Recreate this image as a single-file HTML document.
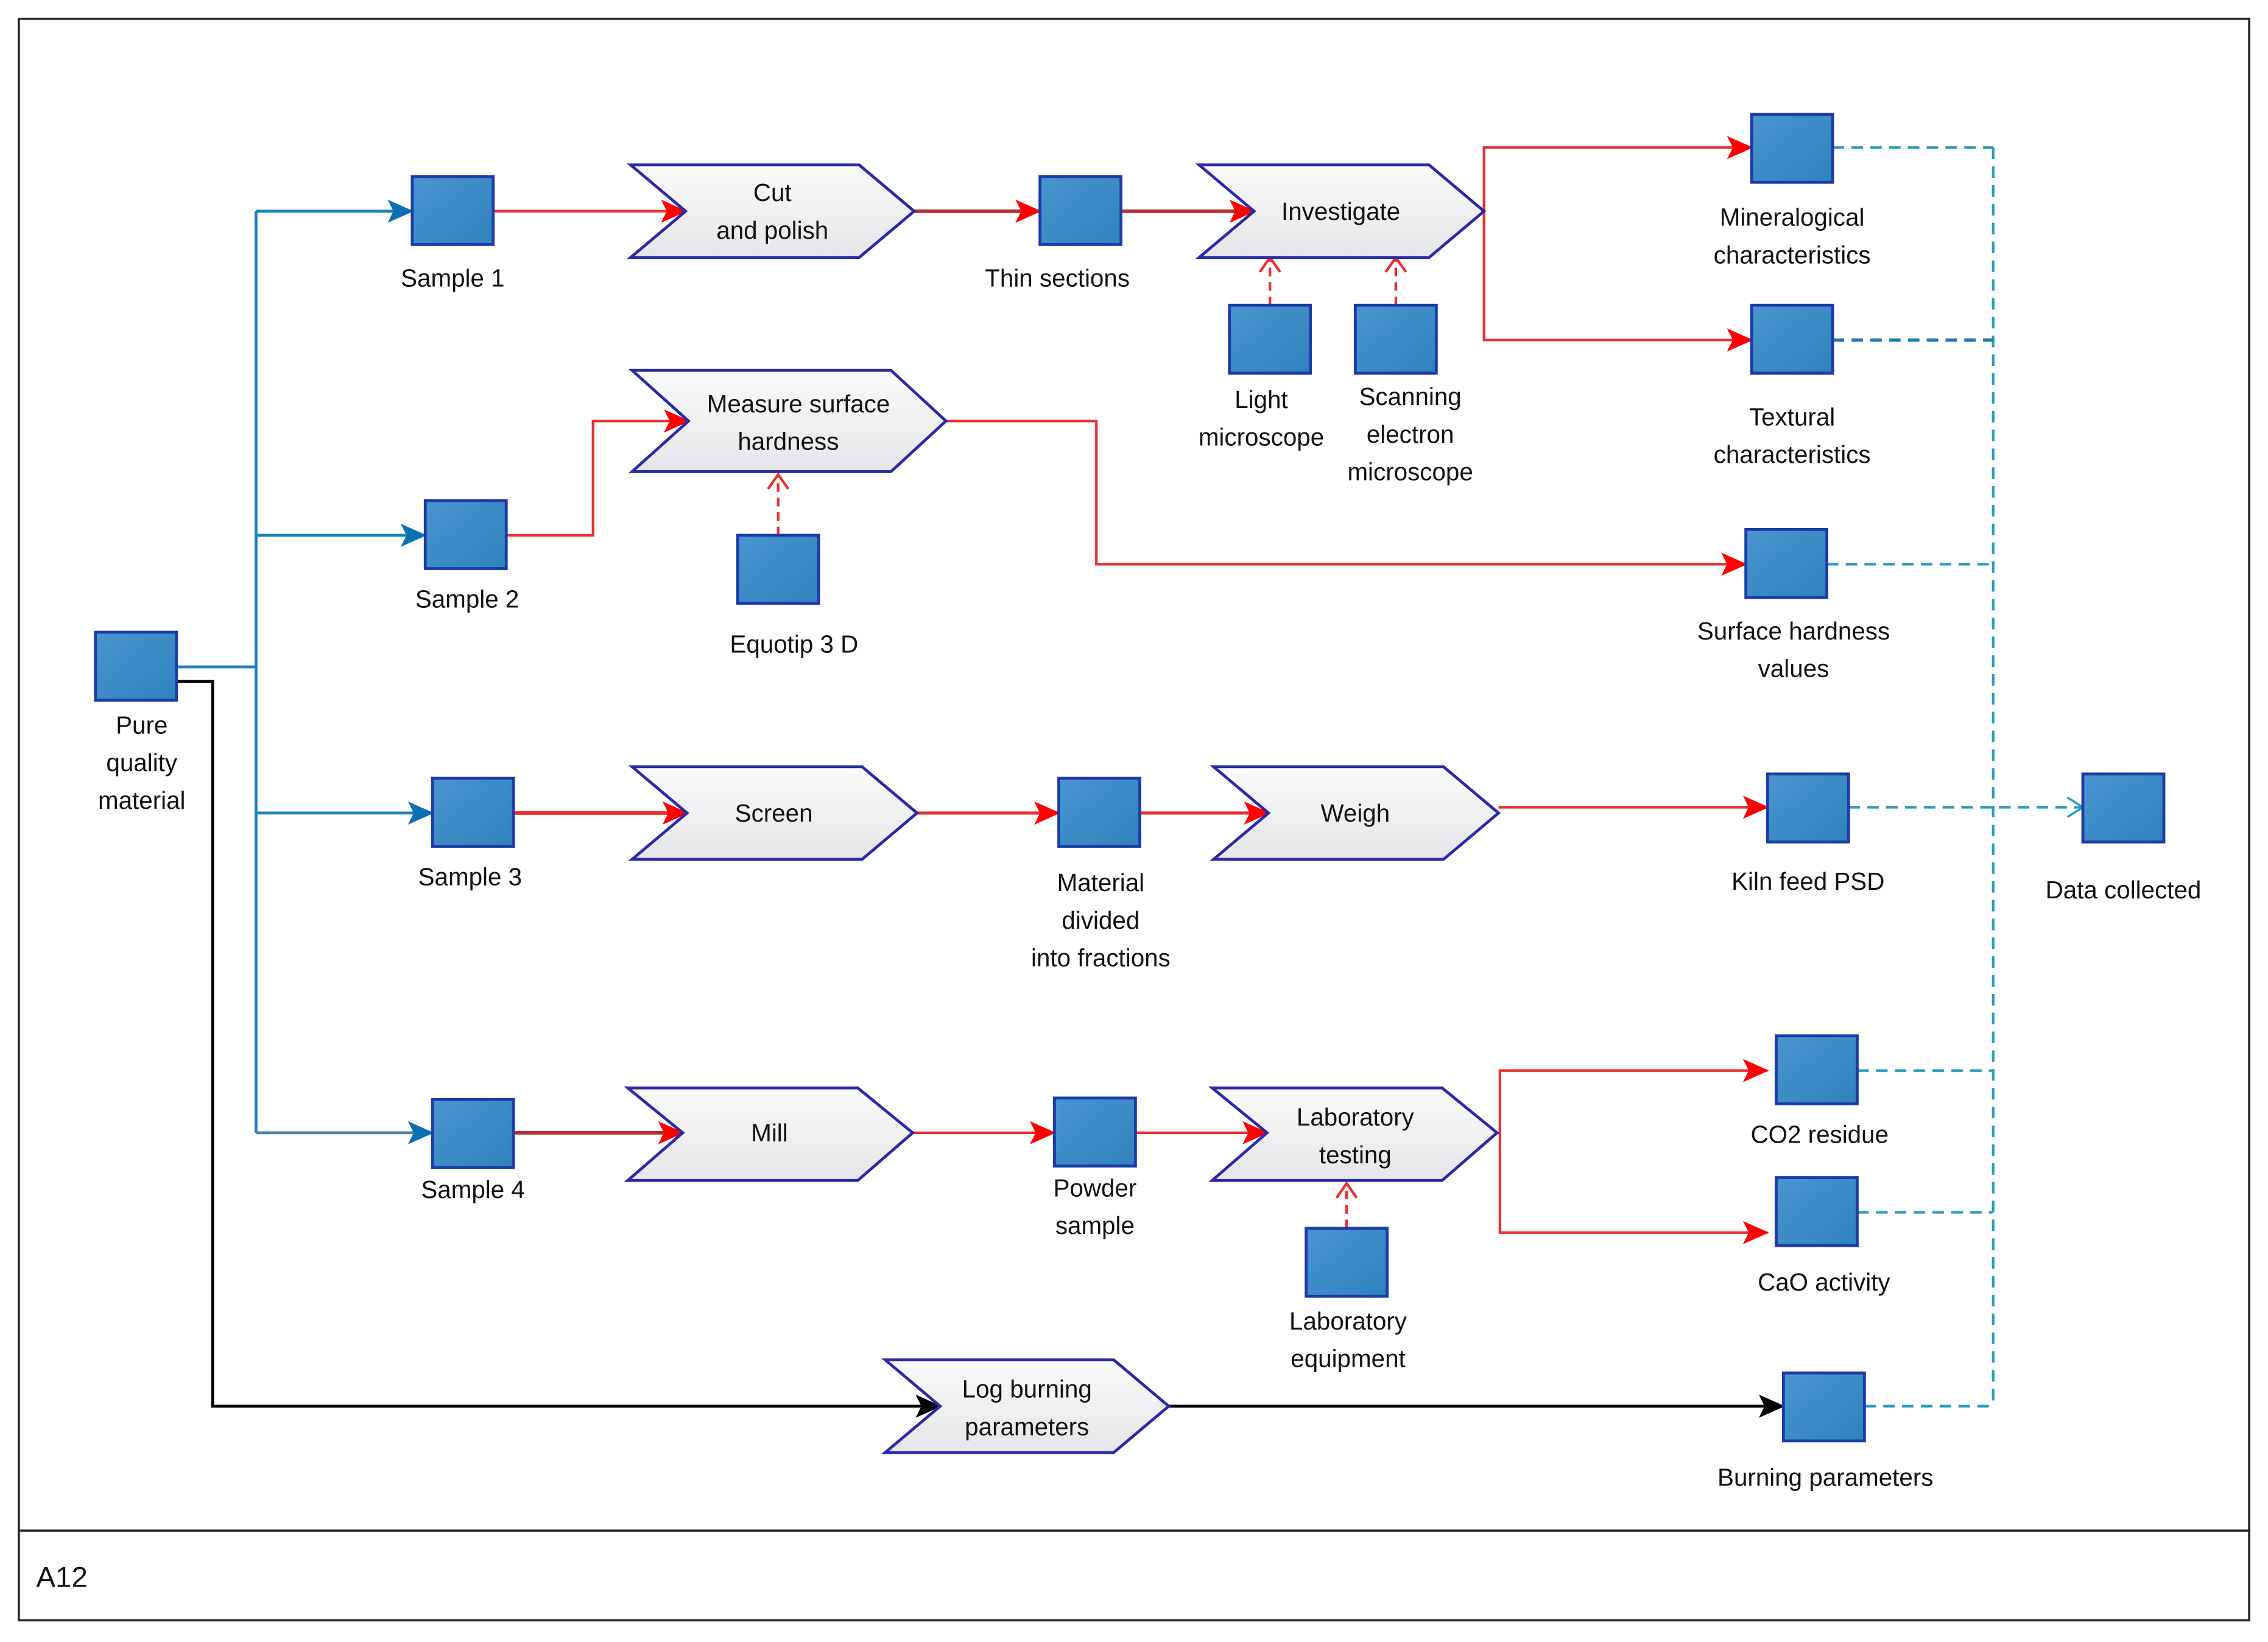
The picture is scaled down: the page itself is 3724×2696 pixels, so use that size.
<!DOCTYPE html>
<html><head><meta charset="utf-8"><style>html,body{margin:0;padding:0;background:#fff}svg{display:block}</style></head><body>
<svg width="3724" height="2696" viewBox="0 0 1568 1135" preserveAspectRatio="none" xmlns="http://www.w3.org/2000/svg" font-family="Liberation Sans, sans-serif" font-size="17" fill="#111">
<defs>
<linearGradient id="bg" x1="0" y1="0" x2="1" y2="1"><stop offset="0" stop-color="#4a95cf"/><stop offset="1" stop-color="#2f82bd"/></linearGradient>
<linearGradient id="cg" x1="0" y1="0" x2="0" y2="1"><stop offset="0" stop-color="#fafafa"/><stop offset="1" stop-color="#e6e6ea"/></linearGradient>
<marker id="arr" markerWidth="18" markerHeight="18" refX="17" refY="9" orient="auto" markerUnits="userSpaceOnUse" viewBox="0 0 18 18"><path d="M0,1L18,9L0,17L4,9z" fill="#f00"/></marker>
<marker id="ab" markerWidth="18" markerHeight="18" refX="17" refY="9" orient="auto" markerUnits="userSpaceOnUse" viewBox="0 0 18 18"><path d="M0,1L18,9L0,17L4,9z" fill="#0a6fb5"/></marker>
<marker id="ak" markerWidth="18" markerHeight="18" refX="17" refY="9" orient="auto" markerUnits="userSpaceOnUse" viewBox="0 0 18 18"><path d="M0,1L18,9L0,17L4,9z" fill="#000"/></marker>
<marker id="ao" markerWidth="12" markerHeight="14" refX="11" refY="7" orient="auto" markerUnits="userSpaceOnUse" viewBox="0 0 12 14"><path d="M0,0L11,7L0,14" fill="none" stroke="#2a9bc0" stroke-width="1.5"/></marker>
</defs>
<rect x="13" y="13" width="1542" height="1107" fill="none" stroke="#222" stroke-width="1.5"/>
<line x1="13" y1="1058" x2="1555" y2="1058" stroke="#222" stroke-width="1.5"/>
<text x="25" y="1097" font-size="20">A12</text>

<g stroke="#1a7fb8" stroke-width="2" fill="none">
<polyline points="122,461 177,461"/>
<line x1="177" y1="146" x2="177" y2="783"/>
<line x1="177" y1="146" x2="285" y2="146" marker-end="url(#ab)"/>
<line x1="177" y1="370" x2="294" y2="370" marker-end="url(#ab)"/>
<line x1="177" y1="562" x2="299" y2="562" marker-end="url(#ab)"/>
<line x1="177" y1="783" x2="299" y2="783" marker-end="url(#ab)" stroke="#4a7fae"/>
</g>
<g stroke="#000" stroke-width="2" fill="none">
<polyline points="122,471 147,471 147,972 650,972" marker-end="url(#ak)"/>
<line x1="808" y1="972" x2="1233" y2="972" marker-end="url(#ak)"/>
</g>
<g stroke="#e83030" stroke-width="1.8" fill="none">
<line x1="341" y1="146" x2="474" y2="146" marker-end="url(#arr)"/>
<line x1="632" y1="146" x2="719" y2="146" marker-end="url(#arr)" stroke="#b23030" stroke-width="2.5"/>
<line x1="775" y1="146" x2="867" y2="146" marker-end="url(#arr)" stroke="#b23030" stroke-width="2.5"/>
<polyline points="1026,146 1026,102 1211,102" marker-end="url(#arr)"/>
<polyline points="1026,146 1026,235 1211,235" marker-end="url(#arr)"/>
<polyline points="350,370 410,370 410,291 476,291" marker-end="url(#arr)"/>
<polyline points="654,291 758,291 758,390 1207,390" marker-end="url(#arr)"/>
<line x1="355" y1="562" x2="475" y2="562" marker-end="url(#arr)" stroke-width="2.5"/>
<line x1="634" y1="562" x2="732" y2="562" marker-end="url(#arr)" stroke-width="2.2"/>
<line x1="788" y1="562" x2="877" y2="562" marker-end="url(#arr)" stroke-width="2.2"/>
<line x1="1036" y1="558" x2="1222" y2="558" marker-end="url(#arr)"/>
<line x1="355" y1="783" x2="472" y2="783" marker-end="url(#arr)" stroke="#b23030" stroke-width="2.5"/>
<line x1="631" y1="783" x2="729" y2="783" marker-end="url(#arr)"/>
<line x1="785" y1="783" x2="876" y2="783" marker-end="url(#arr)"/>
<polyline points="1035,783 1037,783 1037,740 1222,740" marker-end="url(#arr)"/>
<polyline points="1037,783 1037,852 1222,852" marker-end="url(#arr)"/>
<g stroke-dasharray="6,4">
<line x1="878" y1="211" x2="878" y2="178"/>
<line x1="965" y1="211" x2="965" y2="178"/>
<line x1="538" y1="370" x2="538" y2="328"/>
<line x1="931" y1="849" x2="931" y2="818"/>
</g>
<polyline points="871,188 878,178 885,188"/>
<polyline points="958,188 965,178 972,188"/>
<polyline points="531,338 538,328 545,338"/>
<polyline points="924,828 931,818 938,828"/>
</g>
<g stroke="#2a9bc0" stroke-width="1.8" fill="none" stroke-dasharray="8,5">
<line x1="1378" y1="102" x2="1378" y2="972"/>
<line x1="1267" y1="102" x2="1378" y2="102"/>
<line x1="1267" y1="235" x2="1378" y2="235" stroke="#1a7ca8" stroke-width="2.2"/>
<line x1="1263" y1="390" x2="1378" y2="390"/>
<line x1="1278" y1="558" x2="1440" y2="558" marker-end="url(#ao)"/>
<line x1="1284" y1="740" x2="1378" y2="740"/>
<line x1="1284" y1="838" x2="1378" y2="838"/>
<line x1="1289" y1="972" x2="1378" y2="972"/>
</g>

<g fill="url(#cg)" stroke="#2a2aa8" stroke-width="2">
<polygon points="436,114 594,114 632,146 594,178 436,178 474,146"/>
<polygon points="829,114 988,114 1026,146 988,178 829,178 867,146"/>
<polygon points="437,256 616,256 654,291 616,326 437,326 476,291"/>
<polygon points="437,530 596,530 634,562 596,594 437,594 475,562"/>
<polygon points="839,530 998,530 1036,562 998,594 839,594 877,562"/>
<polygon points="434,752 593,752 631,783 593,816 434,816 472,783"/>
<polygon points="838,752 997,752 1035,783 997,816 838,816 876,783"/>
<polygon points="612,940 770,940 808,972 770,1004 612,1004 650,972"/>
</g>
<g fill="url(#bg)" stroke="#1c3aa8" stroke-width="2">
<rect x="66" y="437" width="56" height="47"/>
<rect x="285" y="122" width="56" height="47"/>
<rect x="294" y="346" width="56" height="47"/>
<rect x="299" y="538" width="56" height="47"/>
<rect x="299" y="760" width="56" height="47"/>
<rect x="719" y="122" width="56" height="47"/>
<rect x="850" y="211" width="56" height="47"/>
<rect x="937" y="211" width="56" height="47"/>
<rect x="1211" y="79" width="56" height="47"/>
<rect x="1211" y="211" width="56" height="47"/>
<rect x="510" y="370" width="56" height="47"/>
<rect x="1207" y="366" width="56" height="47"/>
<rect x="732" y="538" width="56" height="47"/>
<rect x="1222" y="535" width="56" height="47"/>
<rect x="1440" y="535" width="56" height="47"/>
<rect x="729" y="759" width="56" height="47"/>
<rect x="903" y="849" width="56" height="47"/>
<rect x="1228" y="716" width="56" height="47"/>
<rect x="1228" y="814" width="56" height="47"/>
<rect x="1233" y="949" width="56" height="47"/>
</g>

<g text-anchor="middle">
<text x="534" y="139">Cut</text><text x="534" y="165">and polish</text>
<text x="927" y="152">Investigate</text>
<text x="552" y="285">Measure surface</text><text x="545" y="311">hardness</text>
<text x="535" y="568">Screen</text>
<text x="937" y="568">Weigh</text>
<text x="532" y="789">Mill</text>
<text x="937" y="778">Laboratory</text><text x="937" y="804">testing</text>
<text x="710" y="966">Log burning</text><text x="710" y="992">parameters</text>
<text x="98" y="507">Pure</text><text x="98" y="533">quality</text><text x="98" y="559">material</text>
<text x="313" y="198">Sample 1</text>
<text x="323" y="420">Sample 2</text>
<text x="325" y="612">Sample 3</text>
<text x="327" y="828">Sample 4</text>
<text x="731" y="198">Thin sections</text>
<text x="872" y="282">Light</text><text x="872" y="308">microscope</text>
<text x="975" y="280">Scanning</text><text x="975" y="306">electron</text><text x="975" y="332">microscope</text>
<text x="1239" y="156">Mineralogical</text><text x="1239" y="182">characteristics</text>
<text x="1239" y="294">Textural</text><text x="1239" y="320">characteristics</text>
<text x="549" y="451">Equotip 3 D</text>
<text x="1240" y="442">Surface hardness</text><text x="1240" y="468">values</text>
<text x="761" y="616">Material</text><text x="761" y="642">divided</text><text x="761" y="668">into fractions</text>
<text x="1250" y="615">Kiln feed PSD</text>
<text x="1468" y="621">Data collected</text>
<text x="757" y="827">Powder</text><text x="757" y="853">sample</text>
<text x="932" y="919">Laboratory</text><text x="932" y="945">equipment</text>
<text x="1258" y="790">CO2 residue</text>
<text x="1261" y="892">CaO activity</text>
<text x="1262" y="1027">Burning parameters</text>
</g>
</svg>
</body></html>
